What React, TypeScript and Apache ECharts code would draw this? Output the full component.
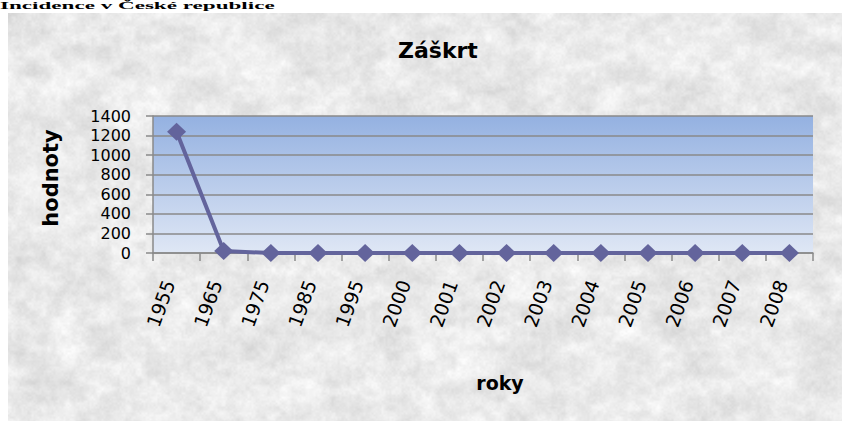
import React, { useEffect, useRef } from "react";
import * as echarts from "echarts";

const years = ["1955", "1965", "1975", "1985", "1995", "2000", "2001", "2002", "2003", "2004", "2005", "2006", "2007", "2008"];
const values = [1240, 20, 0, 0, 0, 0, 0, 0, 0, 0, 0, 0, 0, 0];
const yTicks = [0, 200, 400, 600, 800, 1000, 1200, 1400];

const chartTitle = "Záškrt";
const xName = "roky";
const yName = "hodnoty";
const headerText = "Incidence v České republice";

function makeTexture(w: number, h: number): string {
  const c = document.createElement("canvas");
  c.width = w;
  c.height = h;
  const ctx = c.getContext("2d");
  if (!ctx) return "";
  const img = ctx.createImageData(w, h);
  const hash = (x: number, y: number, s: number) => {
    let t = Math.imul(x, 374761393) ^ Math.imul(y, 668265263) ^ Math.imul(s, 1442695041);
    t = Math.imul(t ^ (t >>> 13), 1274126177);
    t ^= t >>> 16;
    return (t >>> 0) / 4294967295;
  };
  const noise = (x: number, y: number, sc: number, s: number) => {
    const fx = x / sc, fy = y / sc;
    const x0 = Math.floor(fx), y0 = Math.floor(fy);
    const tx = fx - x0, ty = fy - y0;
    const sx = tx * tx * (3 - 2 * tx), sy = ty * ty * (3 - 2 * ty);
    const a = hash(x0, y0, s), b = hash(x0 + 1, y0, s), cc = hash(x0, y0 + 1, s), d = hash(x0 + 1, y0 + 1, s);
    return a + (b - a) * sx + (cc - a) * sy + (a - b - cc + d) * sx * sy;
  };
  for (let y = 0; y < h; y++) {
    for (let x = 0; x < w; x++) {
      const v = 0.35 * noise(x, y * 1.6, 30, 1) + 0.3 * noise(x, y * 1.4, 12, 2) + 0.2 * noise(x, y, 5, 3) + 0.15 * noise(x, y, 2, 4);
      const g = Math.max(0, Math.min(255, 208 + v * 50));
      const i = (y * w + x) * 4;
      img.data[i] = g;
      img.data[i + 1] = g;
      img.data[i + 2] = g;
      img.data[i + 3] = 255;
    }
  }
  ctx.putImageData(img, 0, 0);
  return c.toDataURL();
}

export default function App() {
  const ref = useRef<HTMLDivElement>(null);
  const texRef = useRef<HTMLDivElement>(null);

  useEffect(() => {
    if (texRef.current) {
      texRef.current.style.backgroundImage = `url(${makeTexture(834, 408)})`;
    }
    if (!ref.current) return;
    const chart = echarts.init(ref.current, undefined, { renderer: "svg" });
    const axisGray = "#8a8a8a";
    chart.setOption({
      animation: false,
      backgroundColor: "transparent",
      title: {
        text: chartTitle,
        left: 393,
        top: 34,
        textStyle: { fontFamily: "DejaVu Sans", fontWeight: "bold", fontSize: 22, color: "#000" },
      },
      grid: {
        left: 153,
        right: 37,
        top: 116,
        bottom: 172,
        show: true,
        borderWidth: 0,
        backgroundColor: {
          type: "linear",
          x: 0, y: 0, x2: 0, y2: 1,
          colorStops: [
            { offset: 0, color: "#94b1e1" },
            { offset: 1, color: "#dfe7f5" },
          ],
        },
      },
      xAxis: {
        type: "category",
        data: years,
        boundaryGap: true,
        name: xName,
        nameLocation: "middle",
        nameGap: 120,
        nameTextStyle: { fontFamily: "DejaVu Sans", fontWeight: "bold", fontSize: 19, color: "#000", padding: [0, 0, 0, 34] },
        axisLine: { show: true, lineStyle: { color: axisGray, width: 1.5 } },
        axisTick: { show: true, length: 8, alignWithLabel: false, lineStyle: { color: axisGray, width: 1.5 } },
        axisLabel: { rotate: 70, margin: 7, padding: [0, 22, 0, 0], fontFamily: "DejaVu Sans", fontSize: 19, color: "#000", interval: 0 },
        splitLine: { show: false },
      },
      yAxis: {
        type: "value",
        min: yTicks[0],
        max: yTicks[yTicks.length - 1],
        interval: yTicks[1] - yTicks[0],
        name: yName,
        nameLocation: "middle",
        nameGap: 92,
        nameTextStyle: { fontFamily: "DejaVu Sans", fontWeight: "bold", fontSize: 21, color: "#000", padding: [0, 0, 0, 13] },
        axisLine: { show: true, lineStyle: { color: axisGray, width: 1.5 } },
        axisTick: { show: true, length: 7, lineStyle: { color: axisGray, width: 1.5 } },
        axisLabel: { margin: 22, fontFamily: "DejaVu Sans", fontSize: 16, color: "#000", formatter: (v: number) => String(v) },
        splitLine: { show: true, lineStyle: { color: "#8a8a8a", width: 1.5 } },
      },
      series: [
        {
          type: "line",
          data: values,
          symbol: "diamond",
          symbolSize: [19, 18],
          color: "#63649c",
          lineStyle: { color: "#63649c", width: 4 },
          itemStyle: { color: "#63649c" },
          z: 5,
        },
      ],
      graphic: [
        {
          type: "text",
          x: 0,
          y: 0,
          scaleX: 2.1,
          style: { text: headerText, x: 0, y: 0, fontFamily: "Liberation Serif", fontWeight: "bold", fontSize: 11, fill: "#000", verticalAlign: "top" },
        },
      ],
    });
    return () => chart.dispose();
  }, []);

  return (
    <div style={{ position: "fixed", left: 0, top: 0, width: 850, height: 425, background: "#fff", overflow: "hidden" }}>
      <div ref={texRef} style={{ position: "absolute", left: 8, top: 13, width: 834, height: 408 }} />
      <div ref={ref} style={{ position: "absolute", left: 0, top: 0, width: 850, height: 425 }} />
    </div>
  );
}
